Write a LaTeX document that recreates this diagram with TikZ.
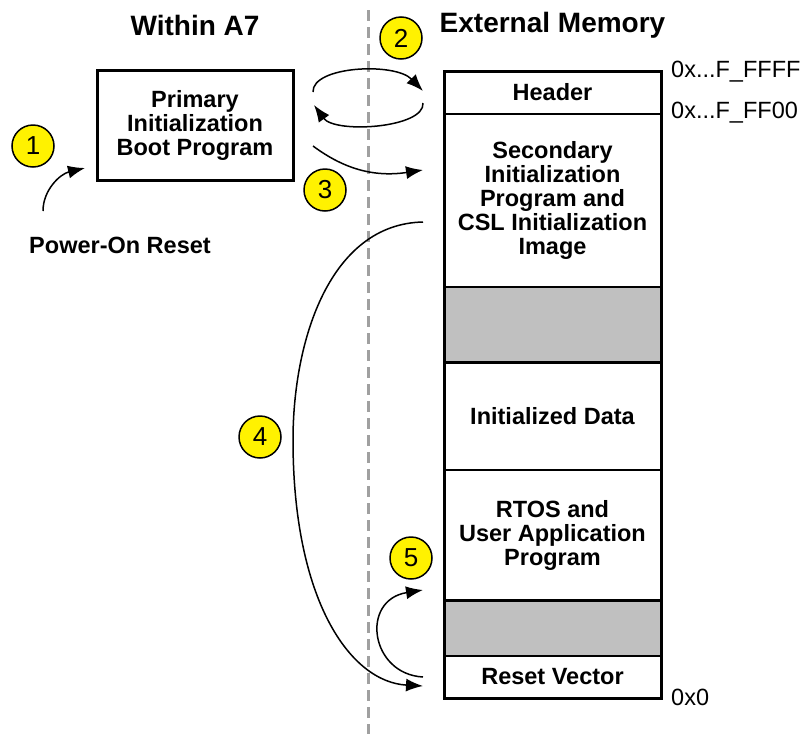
\documentclass[tikz,border=0pt]{standalone}
\usepackage{fontspec}
\setmainfont{Liberation Sans}
\usetikzlibrary{arrows.meta}
\definecolor{regiongray}{HTML}{C0C0C0}
\definecolor{dashgray}{HTML}{A0A0A0}
\begin{document}
\begin{tikzpicture}[x=1pt,y=-1pt,
 ttl/.style={font=\fontsize{28}{30}\selectfont\bfseries, inner sep=0},
 lbl/.style={font=\fontsize{23.5}{24}\selectfont\bfseries, align=center, inner sep=0},
 addr/.style={font=\fontsize{23.5}{24}\selectfont, anchor=west, inner sep=0},
 num/.style={circle, draw=black, line width=1.5pt, fill=yellow, minimum size=42pt, inner sep=0, font=\fontsize{26}{26}\selectfont},
 region/.style={draw=black, line width=2pt, minimum width=217pt, inner sep=0, outer sep=0, align=center, font=\fontsize{23.5}{24}\selectfont\bfseries},
 flow/.style={line width=1.5pt, -{Latex[length=17pt,width=13pt]}},
]
\useasboundingbox (0,0) rectangle (802,734);

% divider
\coordinate (dtop) at (368,10);
\coordinate (dbot) at (368,734);
\draw[dashgray, line width=3pt, dash pattern=on 11pt off 6pt] (dtop) -- (dbot);

% titles
\node[ttl] (t1) at (195,25) {Within A7};
\node[ttl] (t2) at (552.5,25) {External Memory};

% primary box
\node[draw=black, line width=3pt, minimum width=196pt, minimum height=110pt, inner sep=0, align=center,
      font=\fontsize{23.5}{24}\selectfont\bfseries] (prim) at (195,125) {Primary\\Initialization\\Boot Program};

% memory regions
\node[region, minimum height=43pt] (hdr) at (552.5,92.5) {Header};
\node[region, minimum height=173pt] (sec) at (552.5,200.5) {Secondary\\Initialization\\Program and\\CSL Initialization\\Image};
\node[region, minimum height=76pt, fill=regiongray] (g1) at (552.5,325) {};
\node[region, minimum height=108pt] (dat) at (552.5,416) {Initialized Data};
\node[region, minimum height=130pt] (rtos) at (552.5,535) {RTOS and\\User Application\\Program};
\node[region, minimum height=55pt, fill=regiongray] (g2) at (552.5,628.5) {};
\node[region, minimum height=42pt] (rst) at (552.5,677) {Reset Vector};
\draw[line width=3pt] (hdr.north west) rectangle (rst.south east);

% addresses
\node[addr] (a1) at (671,72) {0x...F\_FFFF};
\node[addr] (a2) at (671,113) {0x...F\_FF00};
\node[addr] (a3) at (671,697) {0x0};

% power on reset
\node[lbl] (por) at (120,245) {Power-On Reset};

% arrows
\coordinate (p1s) at (43,211);
\coordinate (p1e) at (85,168);
\draw[flow] (p1s) .. controls (43,190) and (60,174) .. (p1e);

\coordinate (p2s) at (313,92);
\coordinate (p2e) at (423,91);
\draw[flow] (p2s) .. controls (312,66) and (395,62) .. (p2e);

\coordinate (p2bs) at (423,103);
\coordinate (p2be) at (314,105);
\draw[flow] (p2bs) .. controls (425,128) and (335,134) .. (p2be);

\coordinate (p3s) at (313,146);
\coordinate (p3e) at (423,170);
\draw[flow] (p3s) .. controls (340,166) and (370,178) .. (p3e);

\coordinate (p4s) at (423,222);
\coordinate (p4m) at (293,440);
\coordinate (p4e) at (423,686);
\draw[flow] (p4s) .. controls (330,224) and (293,340) .. (p4m) .. controls (293,600) and (350,682) .. (p4e);

\coordinate (p5s) at (423,677);
\coordinate (p5e) at (423,590);
\draw[flow] (p5s) .. controls (370,674) and (360,600) .. (p5e);

% numbered circles
\node[num] (n1) at (33,146) {1};
\node[num] (n2) at (401,38) {2};
\node[num] (n3) at (325,190) {3};
\node[num] (n4) at (260,437) {4};
\node[num] (n5) at (411,558) {5};
\end{tikzpicture}
\end{document}
